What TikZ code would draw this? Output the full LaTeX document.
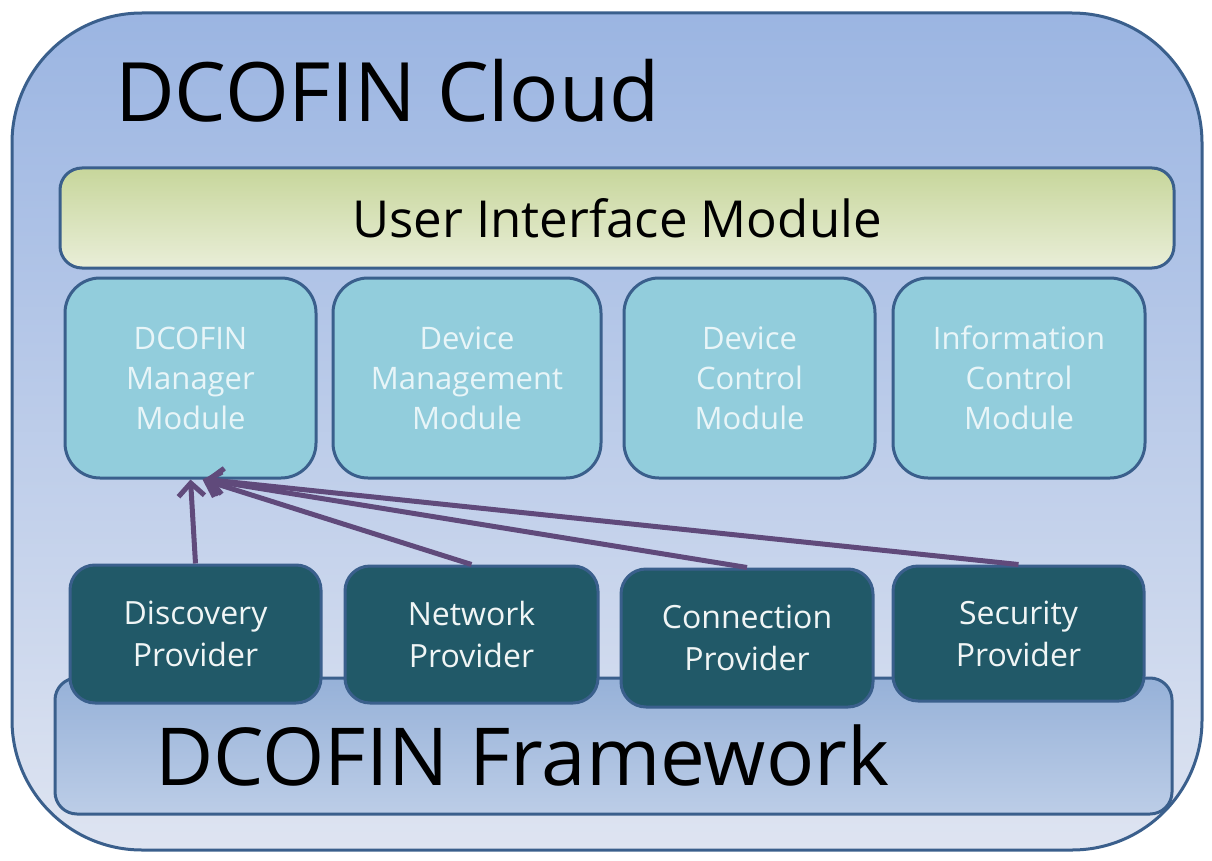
\documentclass[tikz,border=0pt]{standalone}
\usepackage{fontspec}
\setmainfont{Open Sans}
\usetikzlibrary{arrows.meta}
\definecolor{boxline}{RGB}{58,95,140}
\definecolor{outtop}{RGB}{155,181,226}
\definecolor{outbot}{RGB}{222,228,241}
\definecolor{uitop}{RGB}{199,214,155}
\definecolor{uibot}{RGB}{233,238,216}
\definecolor{modfill}{RGB}{146,205,220}
\definecolor{modtext}{RGB}{232,245,248}
\definecolor{provfill}{RGB}{33,89,104}
\definecolor{provtext}{RGB}{240,245,245}
\definecolor{fwtop}{RGB}{150,177,216}
\definecolor{fwbot}{RGB}{188,205,231}
\definecolor{arrcol}{RGB}{96,74,123}
\begin{document}
\begin{tikzpicture}[x=1pt,y=-1pt,
  box/.style={draw=boxline, line width=3pt, rectangle, inner sep=0pt},
  modbox/.style={box, fill=modfill, rounded corners=35pt, minimum height=200pt, text=modtext, align=center, font=\fontsize{31}{40}\selectfont},
  provbox/.style={box, fill=provfill, rounded corners=25pt, text=provtext, align=center, font=\fontsize{32}{42}\selectfont},
  arr/.style={draw=arrcol, line width=5pt, -{Straight Barb[length=13pt,width=26pt]}},
]
\useasboundingbox (0,0) rectangle (1212,861);
% outer cloud
\node[box, rounded corners=130pt, top color=outtop, bottom color=outbot, minimum width=1190pt, minimum height=837pt] (cloud) at (607,431.5) {};
\node[anchor=base west, font=\fontsize{82}{90}\selectfont, inner sep=0pt] (cloudtitle) at (115,122) {DCOFIN Cloud};
% user interface
\node[box, rounded corners=22pt, top color=uitop, bottom color=uibot, minimum width=1114pt, minimum height=100pt, font=\fontsize{51}{54}\selectfont] (ui) at (617,218) {User Interface Module};
% modules
\node[modbox, minimum width=251pt] (mgr) at (190.5,378) {DCOFIN\\Manager\\Module};
\node[modbox, minimum width=268pt] (devman) at (467,378) {Device\\Management\\Module};
\node[modbox, minimum width=251pt] (devctl) at (749.5,378) {Device\\Control\\Module};
\node[modbox, minimum width=252pt] (infctl) at (1019,378) {Information\\Control\\Module};
% framework
\node[box, rounded corners=22pt, top color=fwtop, bottom color=fwbot, minimum width=1117pt, minimum height=136pt] (fw) at (613.5,746) {};
\node[anchor=base west, font=\fontsize{80}{90}\selectfont, inner sep=0pt] (fwtitle) at (155,785) {DCOFIN Framework};
% providers
\node[provbox, minimum width=251pt, minimum height=138pt] (disc) at (195.5,634) {Discovery\\Provider};
\node[provbox, minimum width=253pt, minimum height=137pt] (net) at (471.5,634.5) {Network\\Provider};
\node[provbox, minimum width=252pt, minimum height=138pt] (conn) at (747,638) {Connection\\Provider};
\node[provbox, minimum width=251pt, minimum height=135pt] (sec) at (1018.5,633.5) {Security\\Provider};
% arrows
\draw[arr] (disc.north) -- (mgr.south);
\draw[arr] (net.north) -- ([xshift=12pt]mgr.south);
\draw[arr] (conn.north) -- ([xshift=14pt]mgr.south);
\draw[arr] (sec.north) -- ([xshift=16pt]mgr.south);
\end{tikzpicture}
\end{document}
